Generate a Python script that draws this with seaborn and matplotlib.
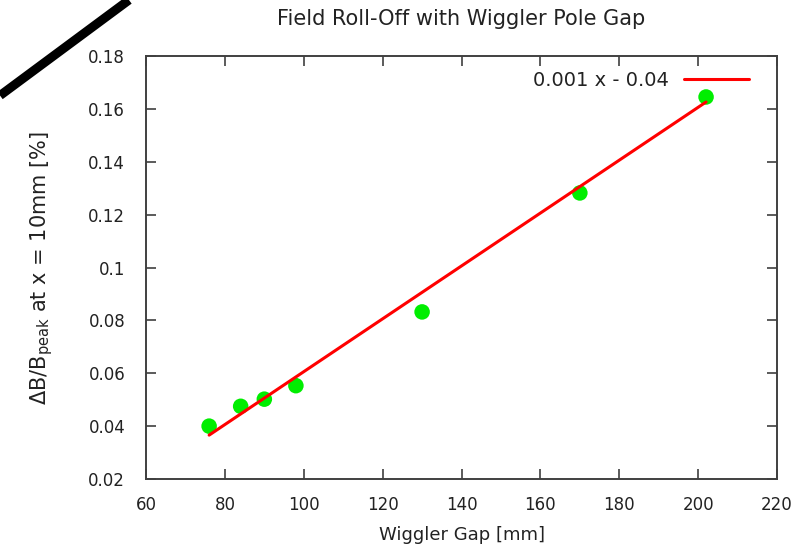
import matplotlib
matplotlib.use("Agg")
import matplotlib.pyplot as plt
import numpy as np
import pandas as pd
import seaborn as sns
from matplotlib.lines import Line2D

# measured points
gap_mm = [76, 84, 90, 98, 130, 170, 202]
roll_off = [0.0400, 0.0475, 0.0502, 0.0553, 0.0832, 0.1282, 0.1645]

# linear fit shown in the legend
fit_slope = 0.001
fit_intercept = -0.0394
fit_label = "0.001 x - 0.04"

x_ticks = [60, 80, 100, 120, 140, 160, 180, 200, 220]
y_ticks = [0.02, 0.04, 0.06, 0.08, 0.1, 0.12, 0.14, 0.16, 0.18]
y_tick_labels = ["0.02", "0.04", "0.06", "0.08", "0.1", "0.12", "0.14", "0.16", "0.18"]

sns.set_style("ticks")
plt.rcParams["font.family"] = ["DejaVu Sans"]
plt.rcParams["mathtext.fontset"] = "dejavusans"

points = pd.DataFrame({"gap": gap_mm, "roll_off": roll_off})
fit_x = np.array([min(gap_mm), max(gap_mm)])
fit = pd.DataFrame({"gap": fit_x, "roll_off": fit_slope * fit_x + fit_intercept})

fig = plt.figure(figsize=(8.01, 5.49), dpi=100)
ax = fig.add_axes([0.1823, 0.1275, 0.7878, 0.7705])

sns.lineplot(data=fit, x="gap", y="roll_off", color="#ff0000", lw=2.2,
             label=fit_label, ax=ax, zorder=3)
sns.scatterplot(data=points, x="gap", y="roll_off", color="#00ee00", s=125,
                edgecolor="none", ax=ax, zorder=2, legend=False)

ax.set_xlim(60, 220)
ax.set_ylim(0.02, 0.18)
ax.set_xticks(x_ticks)
ax.set_yticks(y_ticks)
ax.set_yticklabels(y_tick_labels)
ax.tick_params(direction="in", length=7, width=1.2, color="#404040",
               labelsize=12, labelcolor="#222222", top=True, right=True)
ax.tick_params(axis="x", pad=12)
ax.tick_params(axis="y", pad=15)
for side in ax.spines.values():
    side.set_color("#404040")
    side.set_linewidth(1.4)

ax.set_xlabel("Wiggler Gap [mm]", fontsize=13, labelpad=9, color="#222222")
ax.set_ylabel(r"$\Delta$B/B$_{\mathrm{peak}}$ at x = 10mm [%]", fontsize=15,
              labelpad=24, color="#222222")
ax.set_title("Field Roll-Off with Wiggler Pole Gap", fontsize=15, pad=22,
             color="#222222")

leg = ax.legend(loc="upper right", bbox_to_anchor=(0.978, 1.0), frameon=False,
                markerfirst=False, fontsize=14, handlelength=3.3,
                handletextpad=0.8, borderaxespad=0.35)
for txt in leg.get_texts():
    txt.set_color("#222222")

# thick diagonal stroke in the top-left corner
fig.add_artist(Line2D([0.0, 0.161], [0.826, 1.0], transform=fig.transFigure,
                      color="black", lw=6.5, solid_capstyle="butt"))

fig.savefig("out.png", dpi=100)
